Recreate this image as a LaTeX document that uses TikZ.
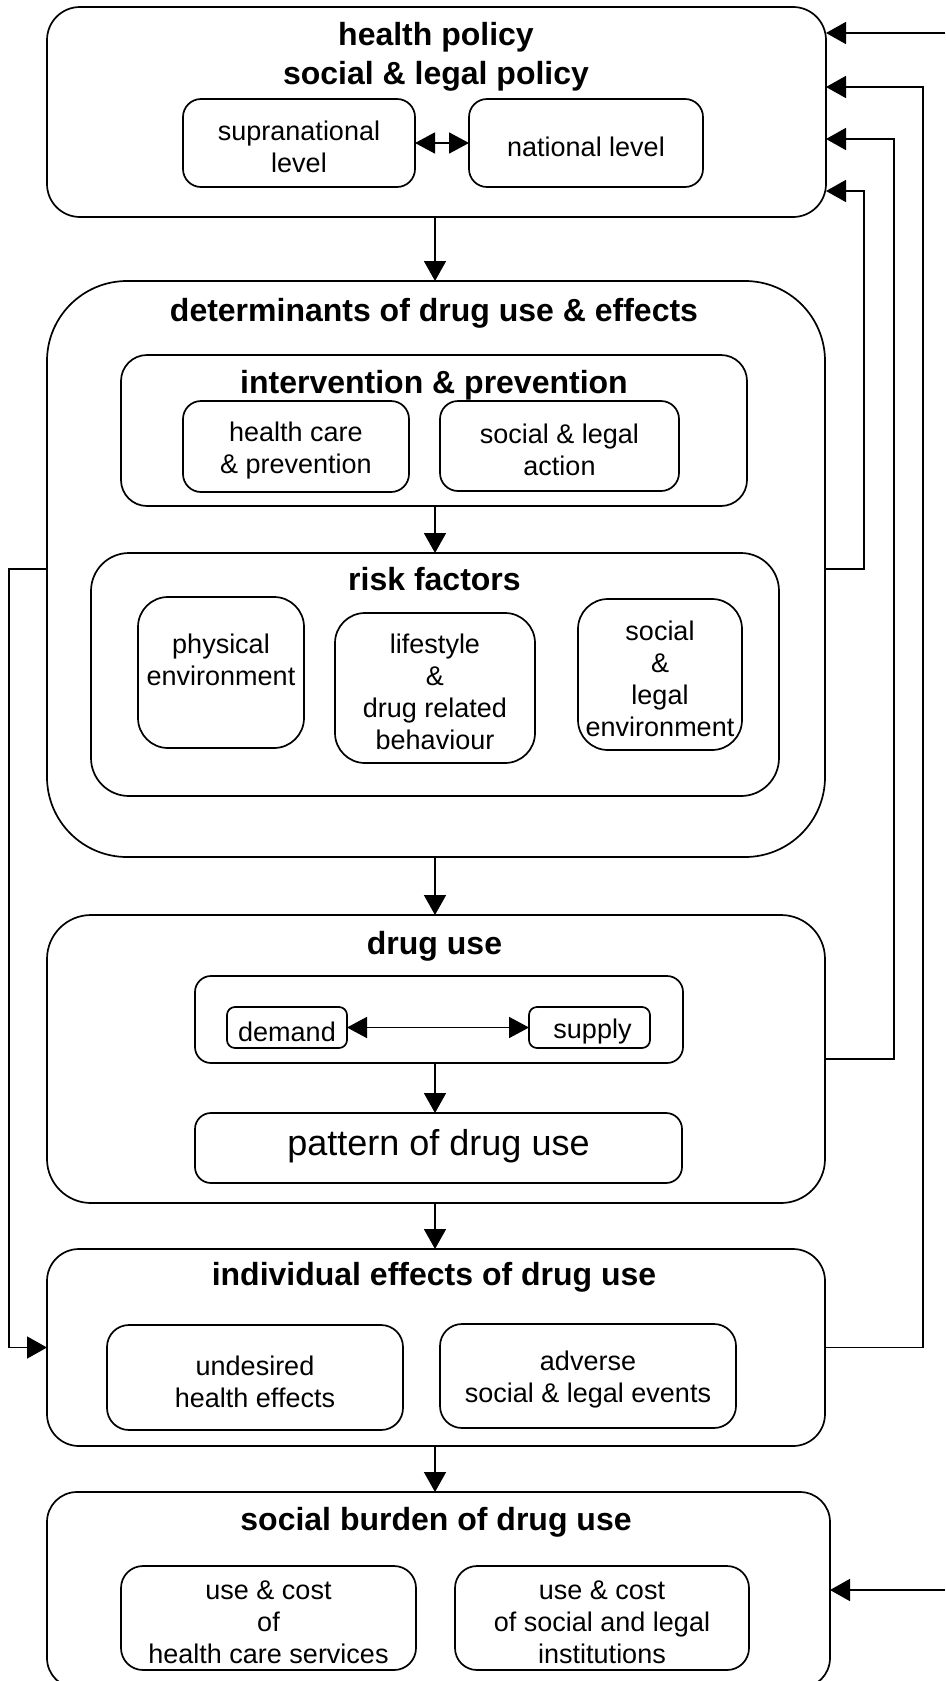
\documentclass[tikz,border=0pt]{standalone}
\usepackage{fontspec}
\setmainfont{Liberation Sans}
\usetikzlibrary{arrows.meta,fit,calc}
\tikzset{
  bx/.style={draw, line width=1.7pt, inner sep=0pt, outer sep=0pt, fit={#1}},
  txt/.style={font=\fontsize{27}{32}\selectfont, align=center, inner sep=0pt, yshift=-4pt},
  big/.style={font=\fontsize{36}{42}\selectfont, align=center, inner sep=0pt},
  ttl/.style={font=\bfseries\fontsize{32}{39}\selectfont, inner sep=0pt, anchor=base},
  arr/.style={line width=1.7pt, -{Triangle[length=20pt,width=22pt]}},
  darr/.style={line width=1.7pt, {Triangle[length=20pt,width=21pt]}-{Triangle[length=20pt,width=21pt]}},
}
\begin{document}
\begin{tikzpicture}[x=1pt,y=-1pt]
\fill[white] (0,0) rectangle (945,1681);
\useasboundingbox (0,0) rectangle (945,1681);
\clip (0,0) rectangle (945,1681);
\coordinate (ax) at (435,0);

% health policy
\node[bx={(47,7) (826,217)}, rounded corners=33pt] (top) {};
\node[ttl] (t1) at (436,45) {health policy};
\node[ttl] (t2) at (436,84) {social \& legal policy};
\node[bx={(183,99) (415,187)}, rounded corners=18pt] (supra) {};
\node[txt] (supraT) at (supra.center) {supranational\\level};
\node[bx={(469,99) (703,187)}, rounded corners=18pt] (natl) {};
\node[txt] (natlT) at (natl.center) {national level};
\draw[darr] (supra.east) -- (natl.west);

% determinants
\node[bx={(47,281) (825,857)}, rounded corners=80pt] (det) {};
\node[ttl] (t3) at (434,321) {determinants of drug use \& effects};
\node[bx={(121,355) (747,506)}, rounded corners=26pt] (interv) {};
\node[ttl] (t4) at (434,393) {intervention \& prevention};
\node[bx={(183,401) (409,492)}, rounded corners=18pt] (hc) {};
\node[txt] (hcT) at (hc.center) {health care\\\& prevention};
\node[bx={(440,401) (679,491)}, rounded corners=18pt] (sla) {};
\node[txt] (slaT) at (sla.center) {social \& legal\\action};
\node[bx={(91,553) (779,796)}, rounded corners=38pt] (risk) {};
\node[ttl] (t5) at (434.5,590) {risk factors};
\node[bx={(138,597) (304,748)}, rounded corners=30pt] (phys) {};
\node[txt] (physT) at (221,656) {physical\\environment};
\node[bx={(335,613) (535,763)}, rounded corners=30pt] (life) {};
\node[txt] (lifeT) at (life.center) {lifestyle\\\&\\drug related\\behaviour};
\node[bx={(578,599) (742,750)}, rounded corners=30pt] (senv) {};
\node[txt] (senvT) at (senv.center) {social\\\&\\legal\\environment};

% drug use
\node[bx={(47,915) (825,1203)}, rounded corners=44pt] (drug) {};
\node[ttl] (t6) at (434.5,954) {drug use};
\node[bx={(195,976) (683,1063)}, rounded corners=16pt] (inner) {};
\node[bx={(227,1007) (347,1048)}, rounded corners=8pt] (demand) {};
\node[txt] (demandT) at (demand.center) {demand};
\node[bx={(529,1007) (650,1048)}, rounded corners=8pt] (supply) {};
\node[txt] (supplyT) at ([xshift=3pt]supply.center) {supply};
\draw[darr] (demand.east) -- (supply.west);
\node[bx={(195,1113) (682,1183)}, rounded corners=16pt] (pattern) {};
\node[big] (patternT) at ([yshift=2pt]pattern.center) {pattern of drug use};

% individual effects
\node[bx={(47,1249) (825,1446)}, rounded corners=32pt] (ind) {};
\node[ttl] (t7) at (434,1285) {individual effects of drug use};
\node[bx={(107,1325) (403,1430)}, rounded corners=22pt] (und) {};
\node[txt] (undT) at (und.center) {undesired\\health effects};
\node[bx={(440,1324) (736,1428)}, rounded corners=22pt] (adv) {};
\node[txt] (advT) at (adv.center) {adverse\\social \& legal events};

% social burden
\node[bx={(47,1492) (830,1688)}, rounded corners=30pt] (burden) {};
\node[ttl] (t8) at (436,1530) {social burden of drug use};
\node[bx={(121,1566) (416,1670)}, rounded corners=22pt] (uc1) {};
\node[txt] (uc1T) at (uc1.center) {use \& cost\\of\\health care services};
\node[bx={(455,1566) (749,1670)}, rounded corners=22pt] (uc2) {};
\node[txt] (uc2T) at (uc2.center) {use \& cost\\of social and legal\\institutions};

% main vertical arrows
\draw[arr] (top.south -| ax) -- (det.north -| ax);
\draw[arr] (interv.south -| ax) -- (risk.north -| ax);
\draw[arr] (det.south -| ax) -- (drug.north -| ax);
\draw[arr] (inner.south -| ax) -- (pattern.north -| ax);
\draw[arr] (drug.south -| ax) -- (ind.north -| ax);
\draw[arr] (ind.south -| ax) -- (burden.north -| ax);

% feedback connectors
\coordinate (e1) at (945,33);
\coordinate (e2) at (945,1590);
\coordinate (r1) at (923,87);
\coordinate (r2) at (894,139);
\coordinate (r3) at (864,191);
\coordinate (l1) at (9,0);
\draw[arr] (e1) -- (e1 -| top.east);
\draw[arr] (e2) -- (e2 -| burden.east);
\draw[arr] (ind.east) -- (ind.east -| r1) -- (r1) -- (r1 -| top.east);
\draw[arr] (drug.east) -- (drug.east -| r2) -- (r2) -- (r2 -| top.east);
\draw[arr] (det.east) -- (det.east -| r3) -- (r3) -- (r3 -| top.east);
\draw[arr] (det.west) -- (det.west -| l1) -- (ind.west -| l1) -- (ind.west);
\end{tikzpicture}
\end{document}
